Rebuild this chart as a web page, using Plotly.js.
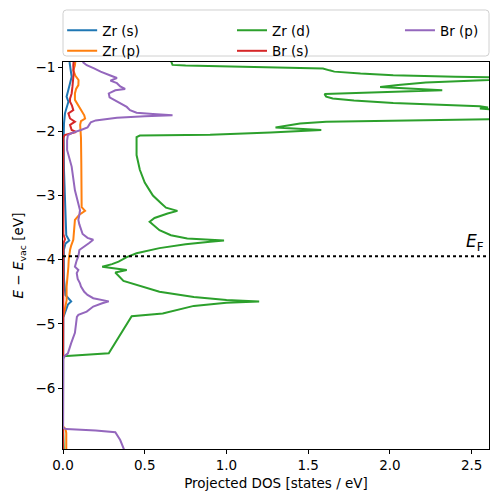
<!DOCTYPE html>
<html>
<head>
<meta charset="utf-8">
<script src="https://cdn.plot.ly/plotly-3.0.1.min.js"></script>
<style>html,body{margin:0;padding:0;background:#fff;}#chart{width:498px;height:502px;}</style>
</head>
<body>
<div id="chart"></div>
<script>
// Series labels
const seriesNames = ["Zr (s)", "Zr (p)", "Zr (d)", "Br (s)", "Br (p)"];
const seriesColors = ["#1f77b4", "#ff7f0e", "#2ca02c", "#d62728", "#9467bd"];
const legendColumn = ["legend", "legend", "legend2", "legend2", "legend3"];

// Zr (s)
const zrS_E   = [-0.92,-0.97,-1.05,-1.15,-1.25,-1.36,-1.46,-1.54,-1.62,-1.72,-1.88,-2.1,-2.6,-3.0,-3.4,-3.62,-3.70,-3.75,-3.85,-4.3,-4.55,-4.62,-4.65,-4.70,-4.81,-4.9,-7.0];
const zrS_dos = [0.04,0.043,0.05,0.053,0.043,0.033,0.022,0.033,0.022,0.012,0.006,0.004,0.006,0.012,0.015,0.02,0.038,0.015,0.005,0.006,0.015,0.04,0.05,0.03,0.012,0.002,0.0];

// Zr (p)
const zrP_E   = [-0.92,-0.97,-1.05,-1.13,-1.20,-1.28,-1.34,-1.41,-1.51,-1.58,-1.64,-1.70,-1.75,-1.80,-1.84,-1.90,-2.1,-2.5,-3.0,-3.18,-3.24,-3.30,-3.38,-3.54,-3.69,-3.78,-3.85,-4.0,-4.11,-4.42,-4.63,-4.76,-4.84,-4.9,-6.6,-6.64,-6.70,-7.0];
const zrP_dos = [0.075,0.073,0.063,0.075,0.095,0.094,0.08,0.073,0.073,0.09,0.105,0.115,0.13,0.135,0.11,0.105,0.11,0.112,0.114,0.114,0.135,0.10,0.073,0.07,0.063,0.05,0.043,0.035,0.033,0.022,0.022,0.012,0.004,0.0,0.0,0.015,0.02,0.02];

// Zr (d)
const zrD_E   = [-0.90,-0.965,-0.975,-1.00,-1.02,-1.05,-1.07,-1.10,-1.125,-1.15,-1.16,-1.18,-1.20,-1.24,-1.28,-1.31,-1.36,-1.42,-1.46,-1.49,-1.52,-1.56,-1.61,-1.63,-1.645,-1.66,-1.70,-1.78,-1.81,-1.85,-1.88,-1.94,-1.98,-2.02,-2.055,-2.065,-2.09,-2.37,-2.60,-2.80,-2.92,-3.00,-3.12,-3.19,-3.24,-3.28,-3.35,-3.41,-3.54,-3.62,-3.67,-3.685,-3.70,-3.72,-3.76,-3.82,-3.90,-3.96,-4.03,-4.07,-4.11,-4.16,-4.20,-4.33,-4.42,-4.50,-4.58,-4.63,-4.65,-4.67,-4.72,-4.78,-4.84,-4.88,-5.17,-5.46,-5.505,-6.6,-7.0];
const zrD_dos = [0.66,0.67,0.75,1.20,1.59,1.63,1.66,1.82,2.02,2.40,2.60,3.2,2.61,2.22,2.05,1.94,2.32,1.60,1.61,1.65,1.78,2.02,2.55,2.60,2.55,2.62,3.3,3.3,2.61,1.61,1.45,1.30,1.58,1.27,0.90,0.47,0.45,0.45,0.47,0.50,0.53,0.55,0.60,0.63,0.70,0.64,0.56,0.53,0.59,0.66,0.76,0.85,0.985,0.90,0.75,0.59,0.45,0.39,0.34,0.30,0.24,0.39,0.32,0.37,0.49,0.59,0.80,1.00,1.20,1.00,0.80,0.70,0.61,0.42,0.35,0.28,0.0,0.0,0.005];

// Br (s)
const brS_E   = [-0.92,-0.97,-1.10,-1.20,-1.30,-1.41,-1.49,-1.54,-1.60,-1.67,-1.72,-1.80,-1.85,-1.90,-1.98,-2.01,-2.04,-2.06,-2.10,-3.6,-3.68,-3.75,-7.0];
const brS_dos = [0.065,0.063,0.065,0.063,0.058,0.053,0.043,0.043,0.055,0.063,0.033,0.043,0.073,0.043,0.053,0.08,0.03,0.01,0.002,0.002,0.012,0.002,0.0];

// Br (p)
const brP_E   = [-0.92,-0.97,-1.02,-1.07,-1.13,-1.17,-1.21,-1.25,-1.30,-1.34,-1.36,-1.41,-1.47,-1.52,-1.57,-1.62,-1.67,-1.71,-1.73,-1.75,-1.765,-1.79,-1.83,-1.86,-1.90,-1.94,-1.98,-2.02,-2.06,-2.14,-2.29,-2.55,-2.92,-3.02,-3.12,-3.23,-3.30,-3.38,-3.45,-3.54,-3.60,-3.66,-3.69,-3.74,-3.80,-3.85,-3.95,-4.01,-4.11,-4.16,-4.21,-4.30,-4.37,-4.42,-4.50,-4.55,-4.60,-4.62,-4.65,-4.68,-4.73,-4.81,-4.86,-4.89,-5.14,-5.30,-5.46,-5.50,-5.55,-6.62,-6.64,-6.66,-6.69,-6.81,-6.93,-7.0];
const brP_dos = [0.12,0.145,0.19,0.23,0.29,0.33,0.29,0.33,0.35,0.38,0.32,0.28,0.285,0.32,0.36,0.39,0.41,0.45,0.55,0.67,0.50,0.33,0.20,0.17,0.16,0.15,0.11,0.06,0.03,0.025,0.025,0.053,0.073,0.084,0.094,0.104,0.10,0.094,0.10,0.114,0.12,0.15,0.185,0.16,0.125,0.10,0.094,0.084,0.073,0.094,0.084,0.09,0.104,0.11,0.13,0.15,0.185,0.22,0.28,0.24,0.185,0.145,0.094,0.085,0.073,0.05,0.03,0.01,0.0,0.0,0.02,0.20,0.32,0.35,0.37,0.38];

// Fermi level
const fermiLevel = -3.945;

// Axis ticks
const xTicks = [0, 0.5, 1.0, 1.5, 2.0, 2.5];
const xTickLabels = ["0.0", "0.5", "1.0", "1.5", "2.0", "2.5"];
const yTicks = [-1, -2, -3, -4, -5, -6];
const yTickLabels = ["\u22121", "\u22122", "\u22123", "\u22124", "\u22125", "\u22126"];

const energies = [zrS_E, zrP_E, zrD_E, brS_E, brP_E];
const dosValues = [zrS_dos, zrP_dos, zrD_dos, brS_dos, brP_dos];

const traces = seriesNames.map((name, i) => ({
  type: "scatter",
  mode: "lines",
  name: name,
  x: dosValues[i],
  y: energies[i],
  line: {color: seriesColors[i], width: 2},
  legend: legendColumn[i],
  hoverinfo: "skip"
}));

const font = {family: "DejaVu Sans, sans-serif", size: 13.5, color: "#000"};

function legendAt(xp) {
  return {
    orientation: "v", x: xp, xanchor: "left", y: 1.1215, yanchor: "top",
    bgcolor: "rgba(0,0,0,0)", borderwidth: 0, font: font, traceorder: "normal",
    tracegroupgap: 0
  };
}

// legend frame (rounded rectangle) in paper coordinates
const fx0 = 0, fx1 = 1, fy0 = 1.0155, fy1 = 1.1344, rx = 0.008, ry = 0.009;
const framePath =
  `M ${fx0 + rx} ${fy0} L ${fx1 - rx} ${fy0} Q ${fx1} ${fy0} ${fx1} ${fy0 + ry} ` +
  `L ${fx1} ${fy1 - ry} Q ${fx1} ${fy1} ${fx1 - rx} ${fy1} ` +
  `L ${fx0 + rx} ${fy1} Q ${fx0} ${fy1} ${fx0} ${fy1 - ry} ` +
  `L ${fx0} ${fy0 + ry} Q ${fx0} ${fy0} ${fx0 + rx} ${fy0} Z`;

const layout = {
  width: 498, height: 502,
  margin: {l: 63, r: 9, t: 62, b: 53, pad: 0, autoexpand: false},
  paper_bgcolor: "#fff", plot_bgcolor: "#fff",
  font: font,
  showlegend: true,
  legend: legendAt(-0.002),
  legend2: legendAt(0.3967),
  legend3: legendAt(0.791),
  xaxis: {
    range: [0, 2.606], tickvals: xTicks, ticktext: xTickLabels,
    ticks: "outside", ticklen: 4, tickwidth: 1, tickcolor: "#000",
    showline: true, mirror: true, linecolor: "#000", linewidth: 1,
    showgrid: false, zeroline: false, automargin: false,
    title: {text: "Projected DOS [states / eV]", font: font, standoff: 6}
  },
  yaxis: {
    range: [-6.95, -0.92], tickvals: yTicks, ticktext: yTickLabels,
    ticks: "outside", ticklen: 4, tickwidth: 1, tickcolor: "#000",
    showline: true, mirror: true, linecolor: "#000", linewidth: 1,
    showgrid: false, zeroline: false, automargin: false,
    title: {text: "<i>E</i> \u2212 <i>E</i><sub>vac</sub> [eV]", font: font, standoff: 8}
  },
  shapes: [{
    type: "line", xref: "paper", x0: 0, x1: 1, yref: "y", y0: fermiLevel, y1: fermiLevel,
    line: {color: "#000", width: 2, dash: "dot"}
  }, {
    type: "path", xref: "paper", yref: "paper", path: framePath,
    line: {color: "#d0d0d0", width: 1}, fillcolor: "rgba(255,255,255,0.8)", layer: "below"
  }],
  annotations: [{
    xref: "paper", x: 1, xanchor: "right", xshift: -3,
    yref: "y", y: fermiLevel, yanchor: "bottom", yshift: 0,
    text: "<i>E</i><sub>F</sub>", showarrow: false,
    font: {family: "DejaVu Sans, sans-serif", size: 17, color: "#000"}
  }]
};

Plotly.newPlot("chart", traces, layout, {staticPlot: true, displayModeBar: false});
</script>
</body>
</html>
